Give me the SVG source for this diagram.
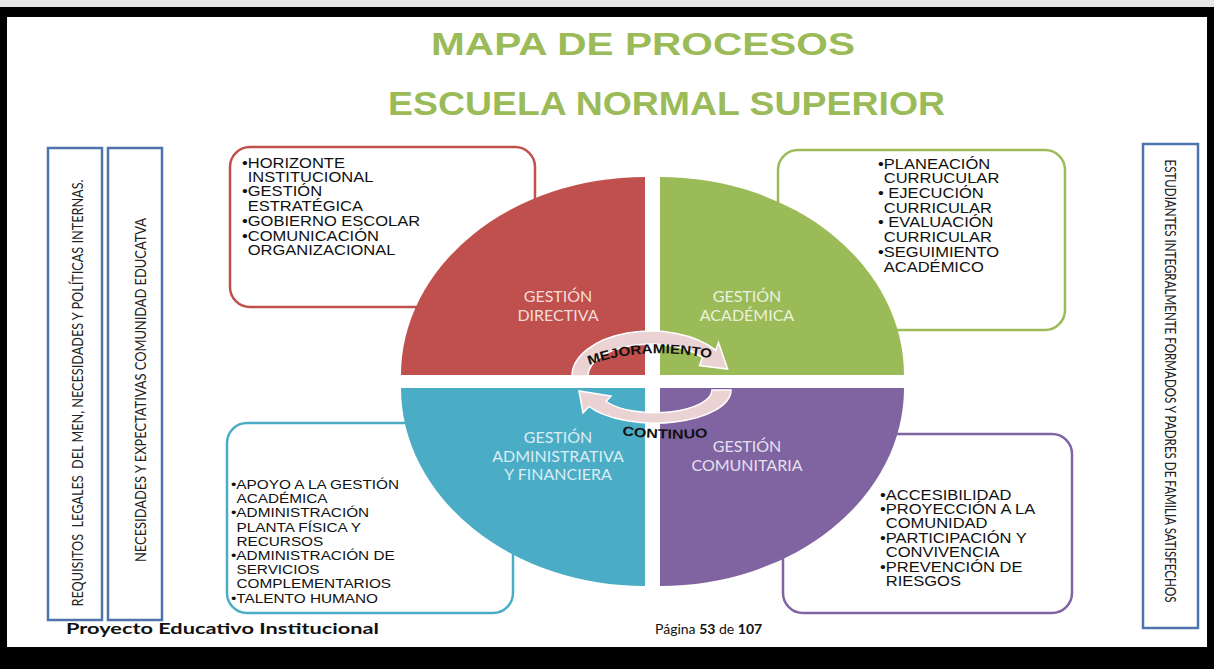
<svg xmlns="http://www.w3.org/2000/svg" width="1214" height="669" viewBox="0 0 1214 669">
<defs>
<style>
.title{font-family:"Liberation Sans",Arial,sans-serif;font-weight:bold;fill:#9bbb59}
.vbox{fill:#fff;stroke:#4f73ad;stroke-width:2.5}
.vtxt{font-family:Lato,"Open Sans",sans-serif;font-size:11.5px;fill:#222}
.item{font-family:"Liberation Sans",Arial,sans-serif;font-size:14px;fill:#111}
.qlab{font-family:Lato,"Open Sans",sans-serif;font-size:16px;text-anchor:middle}
.arrow{fill:#ecd3d3;stroke:#ffffff;stroke-width:1.5}
.atxt{font-family:"Liberation Sans",Arial,sans-serif;font-weight:bold;font-size:13px;fill:#111}
.foot{font-family:Lato,"Open Sans",sans-serif;fill:#111}
</style>
<path id="pathMej" d="M589,365 Q645,345 714,359"/>
<path id="pathCon" d="M622,435 Q665,441 709,437"/>
</defs>
<rect x="0" y="0" width="1214" height="669" fill="#000"/>
<rect x="0" y="0" width="1214" height="7" fill="#e6e6e6"/>
<rect x="7" y="17" width="1200" height="630" fill="#fff"/>

<g id="title">
<text class="title" x="431" y="55" font-size="32" textLength="424" lengthAdjust="spacingAndGlyphs">MAPA DE PROCESOS</text>
<text class="title" x="388" y="115" font-size="33" textLength="557" lengthAdjust="spacingAndGlyphs">ESCUELA NORMAL SUPERIOR</text>
</g>

<g id="input-requisitos">
<rect class="vbox" x="48" y="148" width="54" height="472"/>
<text class="vtxt" transform="translate(83,393) rotate(-90) scale(1,1.3)" text-anchor="middle" textLength="427" lengthAdjust="spacingAndGlyphs" xml:space="preserve">REQUISITOS  LEGALES  DEL MEN, NECESIDADES Y POLÍTICAS INTERNAS.</text>
</g>
<g id="input-necesidades">
<rect class="vbox" x="108" y="148" width="54" height="472"/>
<text class="vtxt" transform="translate(146,390) rotate(-90) scale(1,1.3)" text-anchor="middle" textLength="344" lengthAdjust="spacingAndGlyphs">NECESIDADES Y EXPECTATIVAS COMUNIDAD EDUCATVA</text>
</g>
<g id="output-estudiantes">
<rect class="vbox" x="1143" y="144" width="55" height="484"/>
<text class="vtxt" transform="translate(1165,381) rotate(90) scale(1,1.3)" text-anchor="middle" textLength="443" lengthAdjust="spacingAndGlyphs">ESTUDIANTES INTEGRALMENTE FORMADOS Y PADRES DE FAMILIA SATISFECHOS</text>
</g>

<g id="box-directiva">
<rect x="230" y="147" width="305" height="160" rx="20" fill="#fff" stroke="#c0504d" stroke-width="2.5"/>
<g transform="translate(242,0) scale(1.18,1)">
<text class="item" x="0" y="168">•HORIZONTE</text>
<text class="item" x="4.9" y="182">INSTITUCIONAL</text>
<text class="item" x="0" y="196">•GESTIÓN</text>
<text class="item" x="4.9" y="211">ESTRATÉGICA</text>
<text class="item" x="0" y="226">•GOBIERNO ESCOLAR</text>
<text class="item" x="0" y="241">•COMUNICACIÓN</text>
<text class="item" x="4.9" y="255">ORGANIZACIONAL</text>
</g>
</g>

<g id="box-academica">
<rect x="778" y="150" width="287" height="180" rx="20" fill="#fff" stroke="#9bbb59" stroke-width="2.5"/>
<g transform="translate(878,0) scale(1.18,1)">
<text class="item" x="0" y="169">•PLANEACIÓN</text>
<text class="item" x="4.9" y="183">CURRUCULAR</text>
<text class="item" x="0" y="198">• EJECUCIÓN</text>
<text class="item" x="4.9" y="213">CURRICULAR</text>
<text class="item" x="0" y="227">• EVALUACIÓN</text>
<text class="item" x="4.9" y="242">CURRICULAR</text>
<text class="item" x="0" y="257">•SEGUIMIENTO</text>
<text class="item" x="4.9" y="272">ACADÉMICO</text>
</g>
</g>

<g id="box-administrativa">
<rect x="227" y="423" width="286" height="190" rx="20" fill="#fff" stroke="#4bacc6" stroke-width="2.5"/>
<g transform="translate(231,0) scale(1.18,1)">
<text class="item" style="font-size:13px" x="0" y="489">•APOYO A LA GESTIÓN</text>
<text class="item" style="font-size:13px" x="4.6" y="503">ACADÉMICA</text>
<text class="item" style="font-size:13px" x="0" y="517">•ADMINISTRACIÓN</text>
<text class="item" style="font-size:13px" x="4.6" y="532">PLANTA FÍSICA Y</text>
<text class="item" style="font-size:13px" x="4.6" y="546">RECURSOS</text>
<text class="item" style="font-size:13px" x="0" y="560">•ADMINISTRACIÓN DE</text>
<text class="item" style="font-size:13px" x="4.6" y="574">SERVICIOS</text>
<text class="item" style="font-size:13px" x="4.6" y="588">COMPLEMENTARIOS</text>
<text class="item" style="font-size:13px" x="0" y="603">•TALENTO HUMANO</text>
</g>
</g>

<g id="box-comunitaria">
<rect x="783" y="434" width="289" height="179" rx="20" fill="#fff" stroke="#8064a2" stroke-width="2.5"/>
<g transform="translate(880,0) scale(1.18,1)">
<text class="item" x="0" y="500">•ACCESIBILIDAD</text>
<text class="item" x="0" y="514">•PROYECCIÓN A LA</text>
<text class="item" x="4.9" y="528">COMUNIDAD</text>
<text class="item" x="0" y="543">•PARTICIPACIÓN Y</text>
<text class="item" x="4.9" y="557">CONVIVENCIA</text>
<text class="item" x="0" y="572">•PREVENCIÓN DE</text>
<text class="item" x="4.9" y="586">RIESGOS</text>
</g>
</g>

<g id="q-directiva">
<path d="M645,375 L401,375 A244,198 0 0 1 645,177 Z" fill="#c0504d"/>
<text class="qlab" fill="#f2dcdb" x="558" y="302">GESTIÓN</text>
<text class="qlab" fill="#f2dcdb" x="558" y="321">DIRECTIVA</text>
</g>
<g id="q-academica">
<path d="M660,375 L660,177 A244,198 0 0 1 904,375 Z" fill="#9bbb59"/>
<text class="qlab" fill="#ebf1de" x="747" y="302">GESTIÓN</text>
<text class="qlab" fill="#ebf1de" x="747" y="321">ACADÉMICA</text>
</g>
<g id="q-administrativa">
<path d="M645,388 L645,586 A244,198 0 0 1 401,388 Z" fill="#4bacc6"/>
<text class="qlab" fill="#daeef3" x="558" y="443">GESTIÓN</text>
<text class="qlab" fill="#daeef3" x="558" y="462">ADMINISTRATIVA</text>
<text class="qlab" fill="#daeef3" x="558" y="480">Y FINANCIERA</text>
</g>
<g id="q-comunitaria">
<path d="M660,388 L904,388 A244,198 0 0 1 660,586 Z" fill="#8064a2"/>
<text class="qlab" fill="#e5e0ec" x="747" y="452">GESTIÓN</text>
<text class="qlab" fill="#e5e0ec" x="747" y="471">COMUNITARIA</text>
</g>

<g id="connectors">
<path class="arrow" d="M572,376 A79,45 0 0 1 715.7,350.2 L718.5,342.4 L727.6,369 L699.5,365.6 L702.6,357.6 A63,32 0 0 0 588,376 Z"/>
<path class="arrow" d="M731,390 A76,33 0 0 1 589,406.5 L583,413 L579,391 L611,396 L606,401.5 A57,23 0 0 0 712,390 Z"/>
<text class="atxt"><textPath href="#pathMej" textLength="124" lengthAdjust="spacingAndGlyphs">MEJORAMIENTO</textPath></text>
<text class="atxt"><textPath href="#pathCon" textLength="86" lengthAdjust="spacingAndGlyphs">CONTINUO</textPath></text>
</g>

<g id="footer">
<text class="foot" x="66" y="634" font-size="16" font-weight="bold" textLength="313" lengthAdjust="spacingAndGlyphs">Proyecto Educativo Institucional</text>
<text class="foot" x="655" y="634" font-size="14">Página <tspan font-weight="bold">53</tspan> de <tspan font-weight="bold">107</tspan></text>
</g>
</svg>
